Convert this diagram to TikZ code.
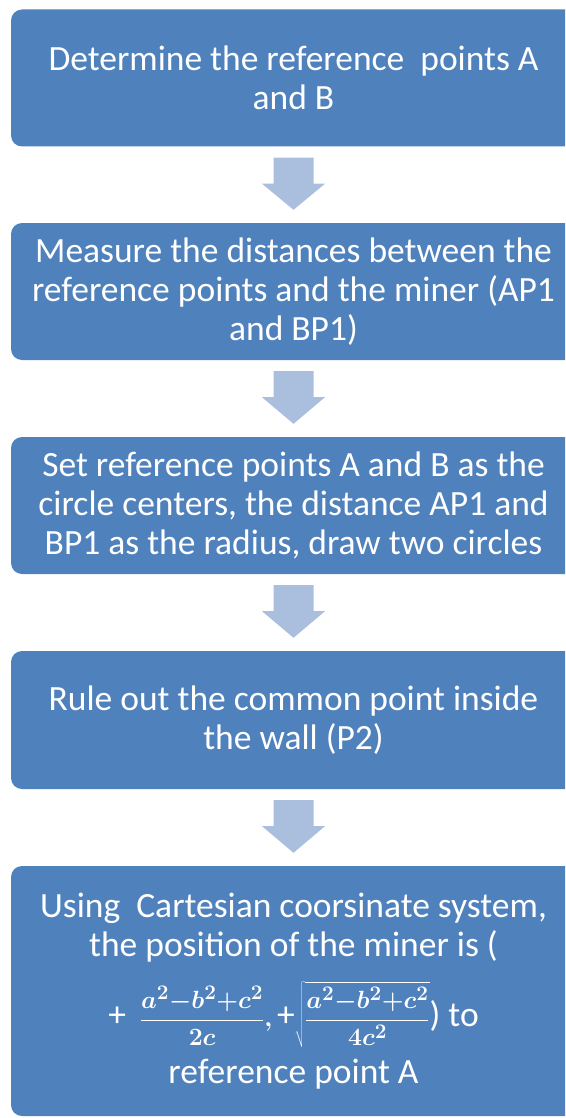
\documentclass[tikz,border=0pt]{standalone}
\usepackage{fontspec}
\setmainfont{Carlito}
\usetikzlibrary{calc}
\definecolor{boxblue}{HTML}{4F81BD}
\definecolor{arrowblue}{HTML}{AABFDD}
\tikzset{
  stepbox/.style={rectangle, rounded corners=11pt, fill=boxblue, text=white,
    minimum width=565pt, inner sep=0pt, align=center,
    font=\fontsize{35.5}{39}\selectfont},
  flowarrow/.style={fill=arrowblue, draw=none}
}
% block arrow hanging below one box and pointing at the next
\newcommand{\blockarrow}[2]{%
  \fill[flowarrow] ($(#1.south)+(-20,11)$) -- ($(#1.south)+(20,11)$)
    -- ($(#1.south)+(20,37)$) -- ($(#1.south)+(31.5,37)$)
    -- ($(#2.north)+(0,-13)$)
    -- ($(#1.south)+(-31.5,37)$) -- ($(#1.south)+(-20,37)$) -- cycle;}
% the coordinate formula, fractions set smaller than the running text
\newcommand{\bigplus}{\mbox{\fontsize{35.5}{35.5}\selectfont +}}
\newcommand{\minerpos}{%
  \bigplus\hspace{14pt}%
  \mbox{\fontsize{24.88}{24.88}\selectfont\boldmath$\displaystyle
    \frac{a^2{-}b^2{+}c^2}{2c},
    \bigplus\sqrt{\frac{a^2{-}b^2{+}c^2}{4c^2}}$}%
  ) to}
\begin{document}
\begin{tikzpicture}[x=1pt, y=-1pt]
\useasboundingbox (0,0) rectangle (565,1118);
\clip (0,0) rectangle (565,1118);

\node[stepbox, minimum height=137pt] (b1) at (293.5,78)
  {Determine the reference\ \ points A\\and B};
\node[stepbox, minimum height=137pt] (b2) at (293.5,291.5)
  {Measure the distances between the\\reference points and the miner (AP1\\and BP1)};
\node[stepbox, minimum height=137pt] (b3) at (293.5,505.5)
  {Set reference points A and B as the\\circle centers, the distance AP1 and\\BP1 as the radius, draw two circles};
\node[stepbox, minimum height=138pt] (b4) at (293.5,720)
  {Rule out the common point inside\\the wall (P2)};
\node[stepbox, minimum height=250pt] (b5) at (293.5,991)
  {Using\ \ Cartesian coorsinate system,\\the position of the miner is (\\[18pt]
   \minerpos\\[10pt]
   reference point A};

\blockarrow{b1}{b2}
\blockarrow{b2}{b3}
\blockarrow{b3}{b4}
\blockarrow{b4}{b5}
\end{tikzpicture}
\end{document}
